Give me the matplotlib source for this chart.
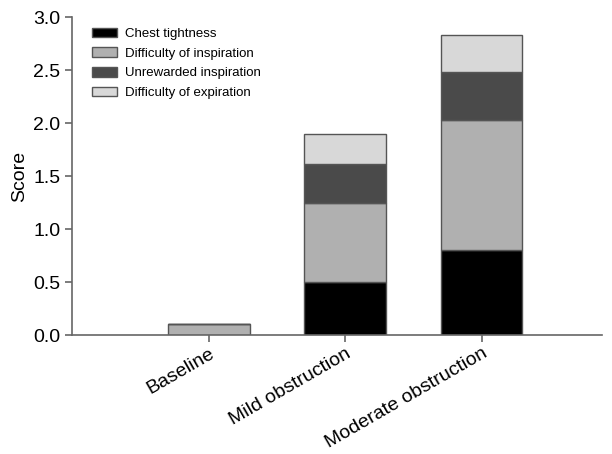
import matplotlib
matplotlib.use("Agg")
import matplotlib.pyplot as plt
import numpy as np

# Данные графика
groups = ["Baseline", "Mild obstruction", "Moderate obstruction"]
series_names = ["Chest tightness", "Difficulty of inspiration",
                "Unrewarded inspiration", "Difficulty of expiration"]
chest = [0.0, 0.50, 0.80]
insp = [0.10, 0.75, 1.23]
unrew = [0.0, 0.36, 0.45]
expir = [0.0, 0.29, 0.35]
colors = ["#000000", "#b0b0b0", "#4a4a4a", "#d8d8d8"]

plt.rcParams['font.family'] = ['Liberation Sans', 'DejaVu Sans']

fig = plt.figure(figsize=(6.12, 4.54), dpi=100)
ax = fig.add_axes([0.118, 0.262, 0.865, 0.70])

x = np.arange(len(groups))
bottom = np.zeros(len(groups))
for vals, name, col in zip([chest, insp, unrew, expir], series_names, colors):
    vals = np.array(vals)
    ax.bar(x, vals, 0.6, bottom=bottom, color=col, edgecolor="#555555",
           linewidth=1.0, label=name)
    bottom += vals

ax.set_xlim(-1.0, 2.88)
ax.set_ylim(0, 3.0)
ax.set_yticks(np.arange(0, 3.01, 0.5))
ax.set_yticklabels([f"{v:.1f}" for v in np.arange(0, 3.01, 0.5)], fontsize=14)
ax.set_xticks(x)
ax.set_xticklabels(groups, rotation=30, ha="right", rotation_mode="anchor", fontsize=14)
ax.set_ylabel("Score", fontsize=14)

for s in ["top", "right"]:
    ax.spines[s].set_visible(False)
for s in ["left", "bottom"]:
    ax.spines[s].set_color("#666666")
    ax.spines[s].set_linewidth(1.2)
ax.tick_params(colors="#666666", labelcolor="black", length=5, width=1.2)
ax.tick_params(axis="x", pad=2)

ax.legend(loc="upper left", bbox_to_anchor=(0.015, 1.005), frameon=False,
          fontsize=9.5, handlelength=1.9, handleheight=0.75, labelspacing=0.55,
          handletextpad=0.6)

fig.savefig("out.png", dpi=100)
